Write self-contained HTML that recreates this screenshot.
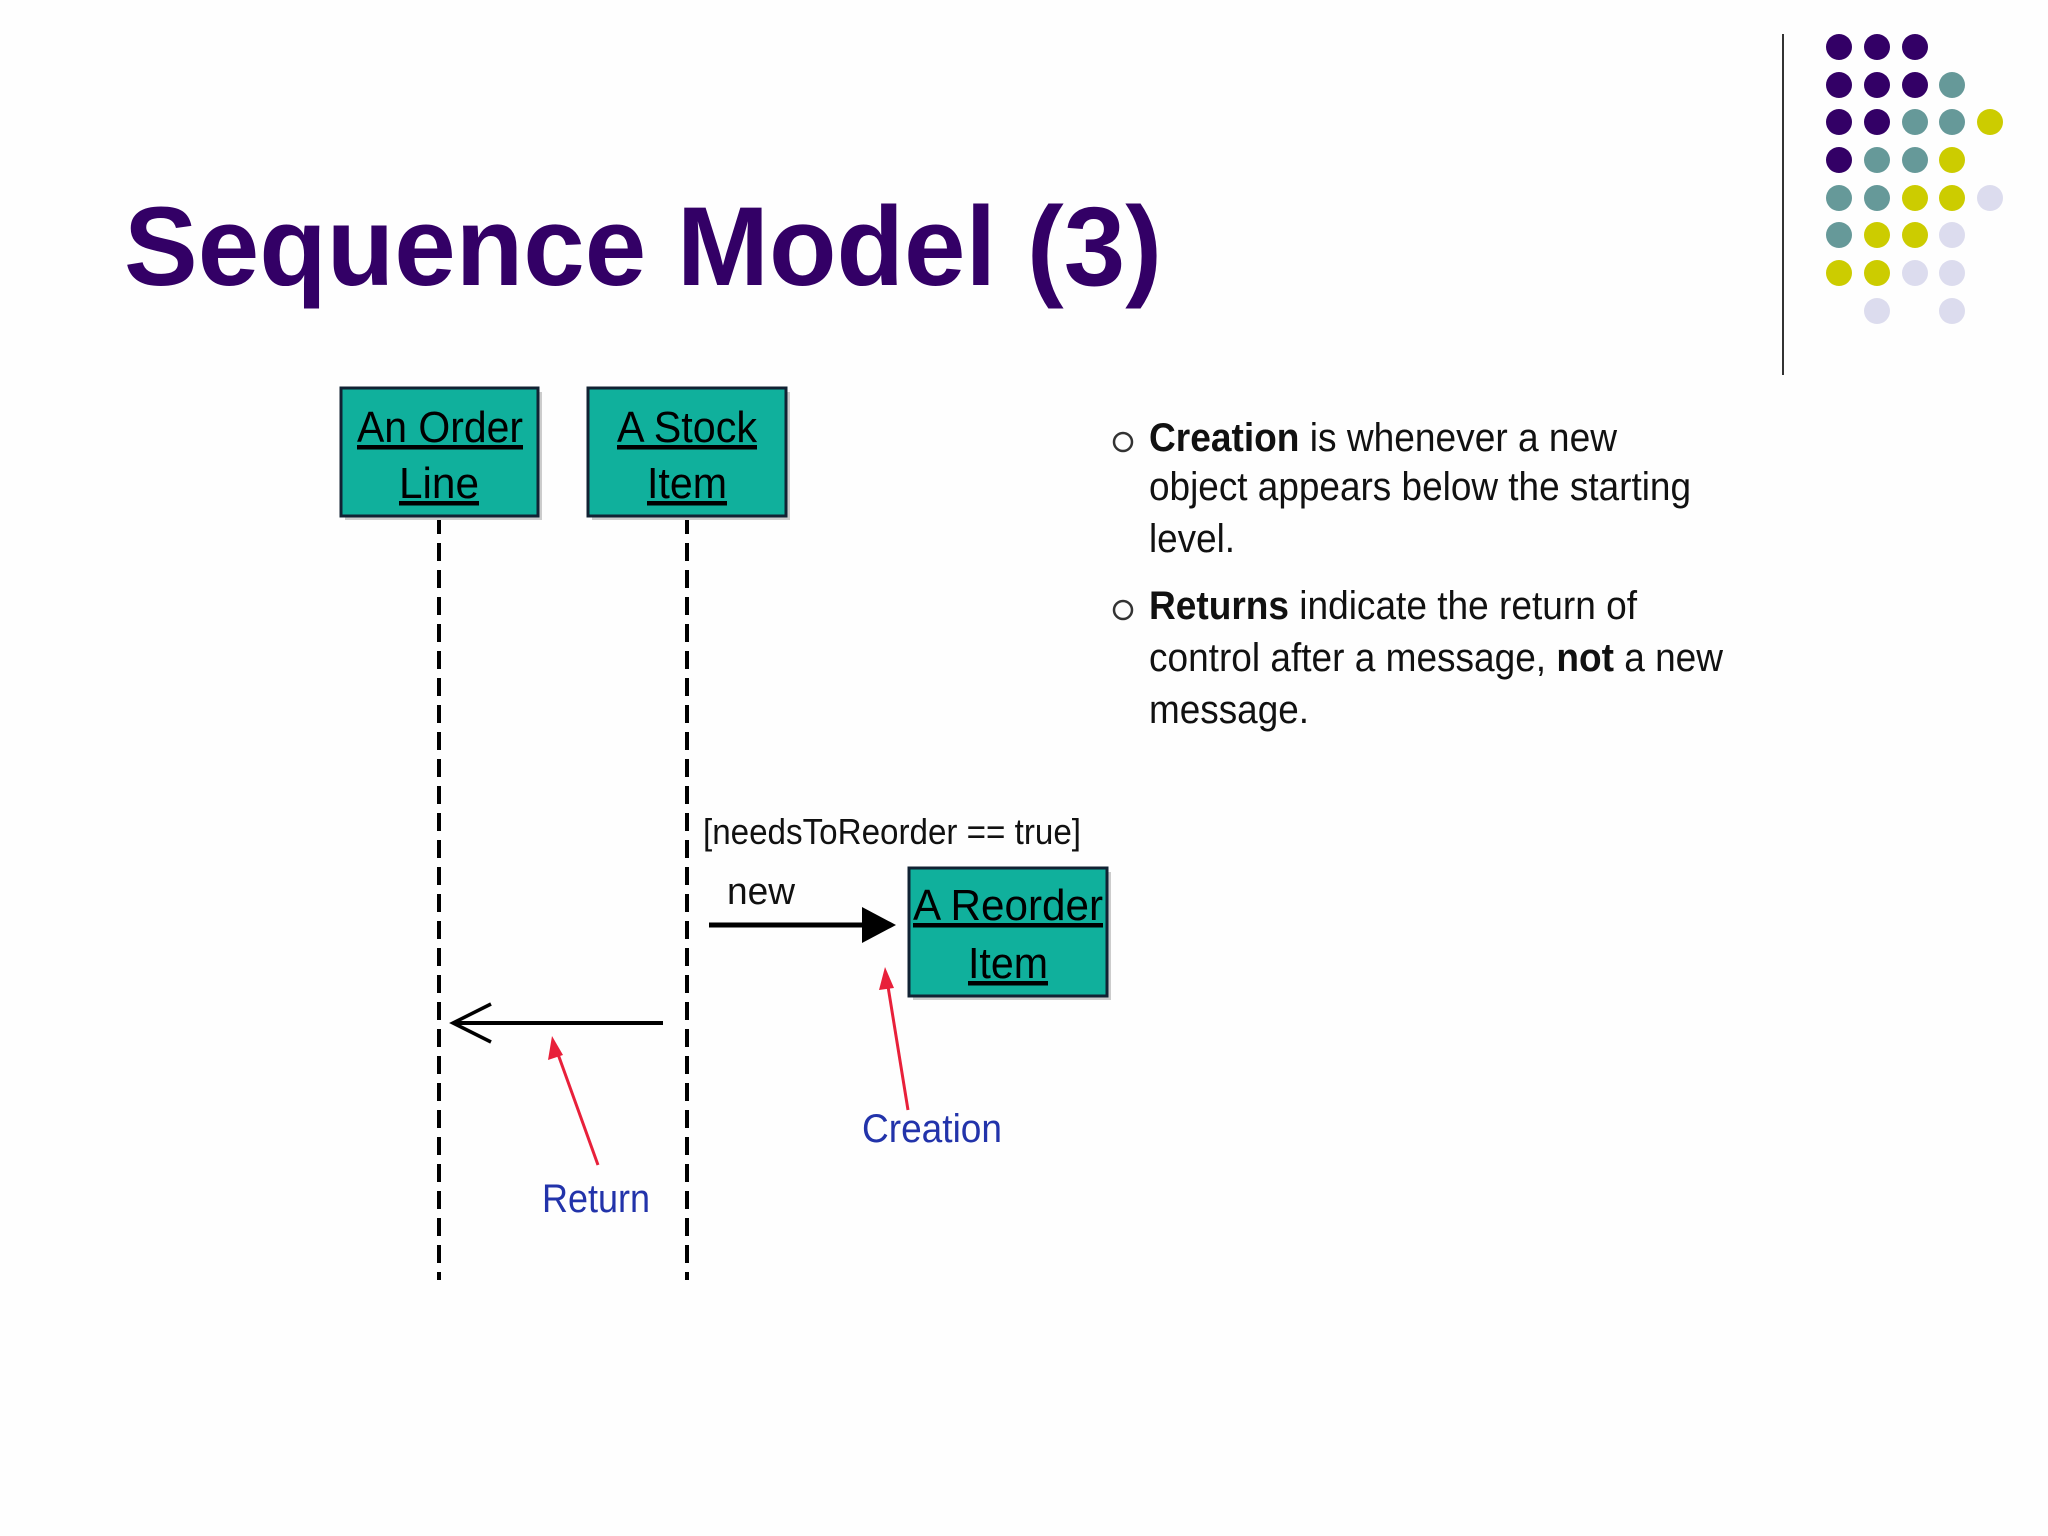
<!DOCTYPE html>
<html><head><meta charset="utf-8"><style>html,body{margin:0;padding:0;background:#fff}svg{display:block}</style></head>
<body>
<svg width="2048" height="1536" viewBox="0 0 2048 1536" xmlns="http://www.w3.org/2000/svg" font-family="Liberation Sans, Arial, sans-serif">
<rect width="2048" height="1536" fill="#fefefe"/>
<text x="124" y="285" font-size="112" font-weight="bold" fill="#330066" textLength="1038" lengthAdjust="spacingAndGlyphs">Sequence Model (3)</text>
<line x1="1783" y1="34" x2="1783" y2="375" stroke="#333" stroke-width="2"/>
<g>
<circle cx="1839" cy="47" r="13" fill="#330066"/><circle cx="1877" cy="47" r="13" fill="#330066"/><circle cx="1915" cy="47" r="13" fill="#330066"/>
<circle cx="1839" cy="85" r="13" fill="#330066"/><circle cx="1877" cy="85" r="13" fill="#330066"/><circle cx="1915" cy="85" r="13" fill="#330066"/><circle cx="1952" cy="85" r="13" fill="#669999"/>
<circle cx="1839" cy="122" r="13" fill="#330066"/><circle cx="1877" cy="122" r="13" fill="#330066"/><circle cx="1915" cy="122" r="13" fill="#669999"/><circle cx="1952" cy="122" r="13" fill="#669999"/><circle cx="1990" cy="122" r="13" fill="#cccc00"/>
<circle cx="1839" cy="160" r="13" fill="#330066"/><circle cx="1877" cy="160" r="13" fill="#669999"/><circle cx="1915" cy="160" r="13" fill="#669999"/><circle cx="1952" cy="160" r="13" fill="#cccc00"/>
<circle cx="1839" cy="198" r="13" fill="#669999"/><circle cx="1877" cy="198" r="13" fill="#669999"/><circle cx="1915" cy="198" r="13" fill="#cccc00"/><circle cx="1952" cy="198" r="13" fill="#cccc00"/><circle cx="1990" cy="198" r="13" fill="#dcdcee"/>
<circle cx="1839" cy="235" r="13" fill="#669999"/><circle cx="1877" cy="235" r="13" fill="#cccc00"/><circle cx="1915" cy="235" r="13" fill="#cccc00"/><circle cx="1952" cy="235" r="13" fill="#dcdcee"/>
<circle cx="1839" cy="273" r="13" fill="#cccc00"/><circle cx="1877" cy="273" r="13" fill="#cccc00"/><circle cx="1915" cy="273" r="13" fill="#dcdcee"/><circle cx="1952" cy="273" r="13" fill="#dcdcee"/>
<circle cx="1877" cy="311" r="13" fill="#dcdcee"/><circle cx="1952" cy="311" r="13" fill="#dcdcee"/>
</g>
<!-- bullets -->
<g font-size="40" fill="#111">
<circle cx="1123" cy="442" r="9" fill="none" stroke="#333" stroke-width="2.5"/>
<text x="1149" y="451" textLength="468" lengthAdjust="spacingAndGlyphs"><tspan font-weight="bold">Creation</tspan> is whenever a new</text>
<text x="1149" y="500" textLength="542" lengthAdjust="spacingAndGlyphs">object appears below the starting</text>
<text x="1149" y="552" textLength="86" lengthAdjust="spacingAndGlyphs">level.</text>
<circle cx="1123" cy="610" r="9" fill="none" stroke="#333" stroke-width="2.5"/>
<text x="1149" y="619" textLength="488" lengthAdjust="spacingAndGlyphs"><tspan font-weight="bold">Returns</tspan> indicate the return of</text>
<text x="1149" y="671" textLength="574" lengthAdjust="spacingAndGlyphs">control after a message, <tspan font-weight="bold">not</tspan> a new</text>
<text x="1149" y="723" textLength="160" lengthAdjust="spacingAndGlyphs">message.</text>
</g>
<!-- lifelines -->
<line x1="439" y1="516" x2="439" y2="1280" stroke="#000" stroke-width="4" stroke-dasharray="18,9"/>
<line x1="687" y1="516" x2="687" y2="1280" stroke="#000" stroke-width="4" stroke-dasharray="18,9"/>
<!-- boxes -->
<g>
<rect x="345" y="392" width="197" height="128" fill="#ccc"/>
<rect x="341" y="388" width="197" height="128" fill="#10b09c" stroke="#123" stroke-width="3"/>
<rect x="592" y="392" width="198" height="128" fill="#ccc"/>
<rect x="588" y="388" width="198" height="128" fill="#10b09c" stroke="#123" stroke-width="3"/>
<rect x="913" y="872" width="198" height="128" fill="#ccc"/>
<rect x="909" y="868" width="198" height="128" fill="#10b09c" stroke="#123" stroke-width="3"/>
</g>
<g font-size="44" fill="#000" text-anchor="middle" text-decoration="underline">
<text x="440" y="442" textLength="166" lengthAdjust="spacingAndGlyphs">An Order</text>
<line x1="357" y1="448" x2="523" y2="448" stroke="#000" stroke-width="3"/>
<text x="439" y="498" textLength="80" lengthAdjust="spacingAndGlyphs">Line</text>
<line x1="399" y1="504" x2="479" y2="504" stroke="#000" stroke-width="3"/>
<text x="687" y="442" textLength="140" lengthAdjust="spacingAndGlyphs">A Stock</text>
<line x1="617" y1="448" x2="757" y2="448" stroke="#000" stroke-width="3"/>
<text x="687" y="498" textLength="80" lengthAdjust="spacingAndGlyphs">Item</text>
<line x1="647" y1="504" x2="727" y2="504" stroke="#000" stroke-width="3"/>
<text x="1008" y="920" textLength="190" lengthAdjust="spacingAndGlyphs">A Reorder</text>
<line x1="913" y1="926" x2="1103" y2="926" stroke="#000" stroke-width="3"/>
<text x="1008" y="978" textLength="80" lengthAdjust="spacingAndGlyphs">Item</text>
<line x1="968" y1="984" x2="1048" y2="984" stroke="#000" stroke-width="3"/>
</g>
<!-- messages -->
<text x="703" y="844" font-size="36" fill="#111" textLength="378" lengthAdjust="spacingAndGlyphs">[needsToReorder == true]</text>
<text x="727" y="904" font-size="38" fill="#111" textLength="68" lengthAdjust="spacingAndGlyphs">new</text>
<line x1="709" y1="925" x2="866" y2="925" stroke="#000" stroke-width="5"/>
<polygon points="862,907 896,925 862,943" fill="#000"/>
<line x1="453" y1="1023" x2="663" y2="1023" stroke="#000" stroke-width="4"/>
<polyline points="491,1004 453,1023 491,1042" fill="none" stroke="#000" stroke-width="3.5"/>
<!-- red arrows -->
<line x1="598" y1="1165" x2="554" y2="1043" stroke="#e8203a" stroke-width="3"/>
<polygon points="552,1036 548,1060 563,1055" fill="#e8203a"/>
<line x1="908" y1="1110" x2="886" y2="974" stroke="#e8203a" stroke-width="3"/>
<polygon points="885,967 879,990 894,988" fill="#e8203a"/>
<text x="542" y="1212" font-size="40" fill="#2233aa" textLength="108" lengthAdjust="spacingAndGlyphs">Return</text>
<text x="862" y="1142" font-size="40" fill="#2233aa" textLength="140" lengthAdjust="spacingAndGlyphs">Creation</text>
</svg>
</body></html>
